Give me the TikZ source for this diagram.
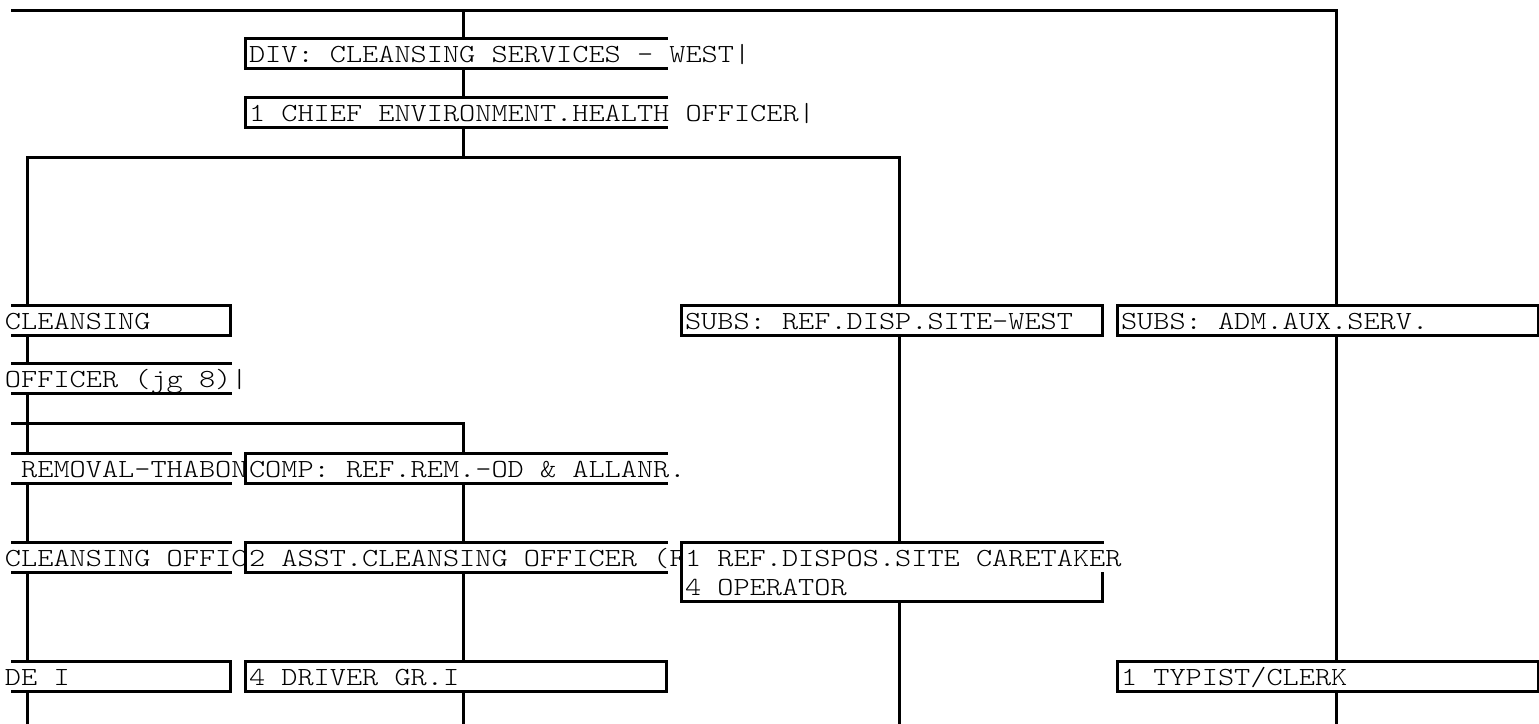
\documentclass[tikz,border=0pt]{standalone}
\usepackage{fontspec}
\newfontfamily\cour{Latin Modern Mono Light}[FakeStretch=1.18]
\usetikzlibrary{calc}
\begin{document}
\begin{tikzpicture}[x=1pt,y=-1pt,
  box/.style={draw, line width=3pt, fill=white, minimum width=421pt, minimum height=30pt, inner sep=0pt, outer sep=0pt, anchor=north west},
  tallbox/.style={box, minimum height=59pt},
  conn/.style={line width=3pt},
  txt/.style={font=\cour\fontsize{26.1}{29.5}\selectfont, fill=white, inner sep=0pt, outer sep=0pt, anchor=base west, text height=22.5pt, text depth=4.5pt},
  txtone/.style={txt, text depth=6pt},
  txttwo/.style={txt, text height=23.5pt}]
\useasboundingbox (0,0) rectangle (1539,723);
\fill[white] (0,0) rectangle (1539,723);
% column and level coordinates
\coordinate (v0) at (27,0);
\coordinate (v2) at (463,0);
\coordinate (v3) at (899,0);
\coordinate (v4) at (1336,0);
\coordinate (xl) at (11,0);
\coordinate (tl) at (5,0);
\coordinate (ytop) at (0,10);
\coordinate (ybr) at (0,157);
\coordinate (ysub) at (0,423);
\coordinate (ybot) at (0,724);
% left column boxes, cut at the left edge of the chart
\begin{scope}
\clip (11,0) rectangle (1539,723);
\node[box] (lc1) at (-191,305) {};
\node[box] (lc2) at (-191,363) {};
\node[box] (lc3) at (-191,453) {};
\node[box] (lc4) at (-191,542) {};
\node[box] (lc5) at (-191,661) {};
\end{scope}
\path (245,38) coordinate (divp) (245,97) coordinate (chiefp)
      (245,453) coordinate (compp) (245,542) coordinate (asstp) (245,661) coordinate (drvp)
      (681,305) coordinate (refp) (681,542) coordinate (dispp)
      (1117,305) coordinate (admp) (1117,661) coordinate (typp);
% connectors
\begin{scope}[conn]
\path (divp) node[box,draw=none,fill=none] (div) {}
      (chiefp) node[box,draw=none,fill=none] (chief) {}
      (compp) node[box,draw=none,fill=none] (comp) {}
      (asstp) node[box,draw=none,fill=none] (asst) {}
      (drvp) node[box,draw=none,fill=none] (driver) {}
      (refp) node[box,draw=none,fill=none] (subsref) {}
      (dispp) node[tallbox,draw=none,fill=none] (disp) {}
      (admp) node[box,draw=none,fill=none] (adm) {}
      (typp) node[box,draw=none,fill=none] (typist) {};
\draw (xl |- ytop) -- (v4 |- ytop) -- (adm.north -| v4);
\draw (div.north -| v2) -- (v2 |- ytop);
\draw (div.south -| v2) -- (chief.north -| v2);
\draw (chief.south -| v2) -- (v2 |- ybr);
\draw (lc1.north -| v0) -- (v0 |- ybr) -- (v3 |- ybr) -- (subsref.north -| v3);
\draw (lc1.south -| v0) -- (lc2.north -| v0);
\draw (lc2.south -| v0) -- (lc3.north -| v0);
\draw (xl |- ysub) -- (v2 |- ysub) -- (comp.north -| v2);
\draw (lc3.south -| v0) -- (lc4.north -| v0);
\draw (lc4.south -| v0) -- (lc5.north -| v0);
\draw (lc5.south -| v0) -- (v0 |- ybot);
\draw (comp.south -| v2) -- (asst.north -| v2);
\draw (asst.south -| v2) -- (driver.north -| v2);
\draw (driver.south -| v2) -- (v2 |- ybot);
\draw (subsref.south -| v3) -- (disp.north -| v3);
\draw (disp.south -| v3) -- (v3 |- ybot);
\draw (adm.south -| v4) -- (typist.north -| v4);
\draw (typist.south -| v4) -- (v4 |- ybot);
\end{scope}
% left column texts
\node[txt] (lc1t) at ($(tl |- lc1.north)+(0,24)$) {CLEANSING};
\node[txt] (lc2t) at ($(tl |- lc2.north)+(0,24)$) {OFFICER (jg 8)|};
\node[txt] (lc3t) at ($(tl |- lc3.north)+(0,24)$) {\ REMOVAL-THABON};
\node[txt] (lc4t) at ($(tl |- lc4.north)+(0,24)$) {CLEANSING OFFIC};
\node[txt] (lc5t) at ($(tl |- lc5.north)+(0,24)$) {DE I};
% second column
\node[box] (div) at (divp) {};
\node[txt] (divt) at ($(div.north west)+(4,24)$) {DIV: CLEANSING SERVICES - WEST|};
\node[box] (chief) at (chiefp) {};
\node[txt] (chieft) at ($(chief.north west)+(4,24)$) {1 CHIEF ENVIRONMENT.HEALTH OFFICER|};
\node[box] (comp) at (compp) {};
\node[txt] (compt) at ($(comp.north west)+(4,24)$) {COMP: REF.REM.-OD \& ALLANR.};
\node[box] (asst) at (asstp) {};
\node[txt] (asstt) at ($(asst.north west)+(4,24)$) {2 ASST.CLEANSING OFFICER (F};
\node[box] (driver) at (drvp) {};
\node[txt] (drivert) at ($(driver.north west)+(4,24)$) {4 DRIVER GR.I};
% third column
\node[box] (subsref) at (refp) {};
\node[txt] (subsreft) at ($(subsref.north west)+(4,24)$) {SUBS: REF.DISP.SITE-WEST};
\node[tallbox] (disp) at (dispp) {};
\node[txtone] (dispt1) at ($(disp.north west)+(4,24)$) {1 REF.DISPOS.SITE CARETAKER};
\node[txttwo] (dispt2) at ($(disp.north west)+(4,53.5)$) {4 OPERATOR};
% fourth column
\node[box] (adm) at (admp) {};
\node[txt] (admt) at ($(adm.north west)+(4,24)$) {SUBS: ADM.AUX.SERV.};
\node[box] (typist) at (typp) {};
\node[txt] (typistt) at ($(typist.north west)+(4,24)$) {1 TYPIST/CLERK};
\end{tikzpicture}
\end{document}
